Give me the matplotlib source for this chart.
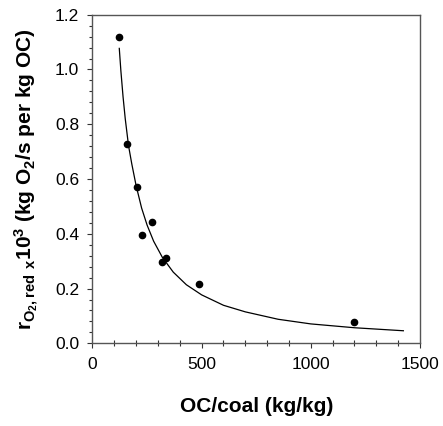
"""Specific O2 reduction rate vs OC/coal ratio, with power-law trend line."""

import matplotlib
matplotlib.use("Agg")
import matplotlib.pyplot as plt
from matplotlib.ticker import MultipleLocator

# measured points
oc_coal = [120, 156, 204, 225, 271, 317, 337, 486, 1196]
rate = [1.12, 0.727, 0.572, 0.394, 0.443, 0.296, 0.313, 0.215, 0.078]

# trend line
fit_x = [122.7, 130, 140, 150, 165, 180, 200, 225, 250, 280, 320,
         370, 430, 500, 600, 700, 850, 1000, 1200, 1424]
fit_y = [1.077, 0.995, 0.900, 0.820, 0.722, 0.655, 0.575, 0.494, 0.432, 0.373, 0.314,
         0.260, 0.214, 0.177, 0.139, 0.115, 0.088, 0.071, 0.057, 0.046]

plt.rcParams["font.family"] = ["Liberation Sans", "DejaVu Sans"]
plt.rcParams["mathtext.fontset"] = "custom"
plt.rcParams["mathtext.rm"] = "Liberation Sans:bold"
plt.rcParams["mathtext.it"] = "Liberation Sans:bold"
plt.rcParams["mathtext.bf"] = "Liberation Sans:bold"

fig = plt.figure(figsize=(4.43, 4.26), dpi=100)
ax = fig.add_axes([0.2088, 0.194, 0.7392, 0.7715])

ax.plot(fit_x, fit_y, color="black", lw=0.9)
ax.plot(oc_coal, rate, "o", color="black", ms=4.5, mec="black")

ax.set_xlim(0, 1500)
ax.set_ylim(0, 1.2)
ax.xaxis.set_major_locator(MultipleLocator(500))
ax.xaxis.set_minor_locator(MultipleLocator(100))
ax.yaxis.set_major_locator(MultipleLocator(0.2))
ax.yaxis.set_minor_locator(MultipleLocator(0.04))
ax.yaxis.set_major_formatter(plt.FormatStrFormatter("%.1f"))

for s in ax.spines.values():
    s.set_color("#555555")
    s.set_linewidth(1.0)

ax.tick_params(which="major", direction="out", length=3.5, width=0.8,
               color="#333333", labelsize=12.5, pad=6)
ax.tick_params(axis="x", which="minor", direction="inout", length=4,
               width=0.8, color="#333333")
ax.tick_params(axis="y", which="minor", direction="out", length=2.5,
               width=0.8, color="#333333")

ax.set_xlabel("OC/coal (kg/kg)", fontsize=15, fontweight="bold", labelpad=18)
ax.set_ylabel(r"r$_{\mathrm{O_2,red}}$ $_{\mathrm{x}}$10$^3$ (kg O$_2$/s per kg OC)",
              fontsize=15, fontweight="bold", labelpad=11)

fig.savefig("out.png", dpi=100)
